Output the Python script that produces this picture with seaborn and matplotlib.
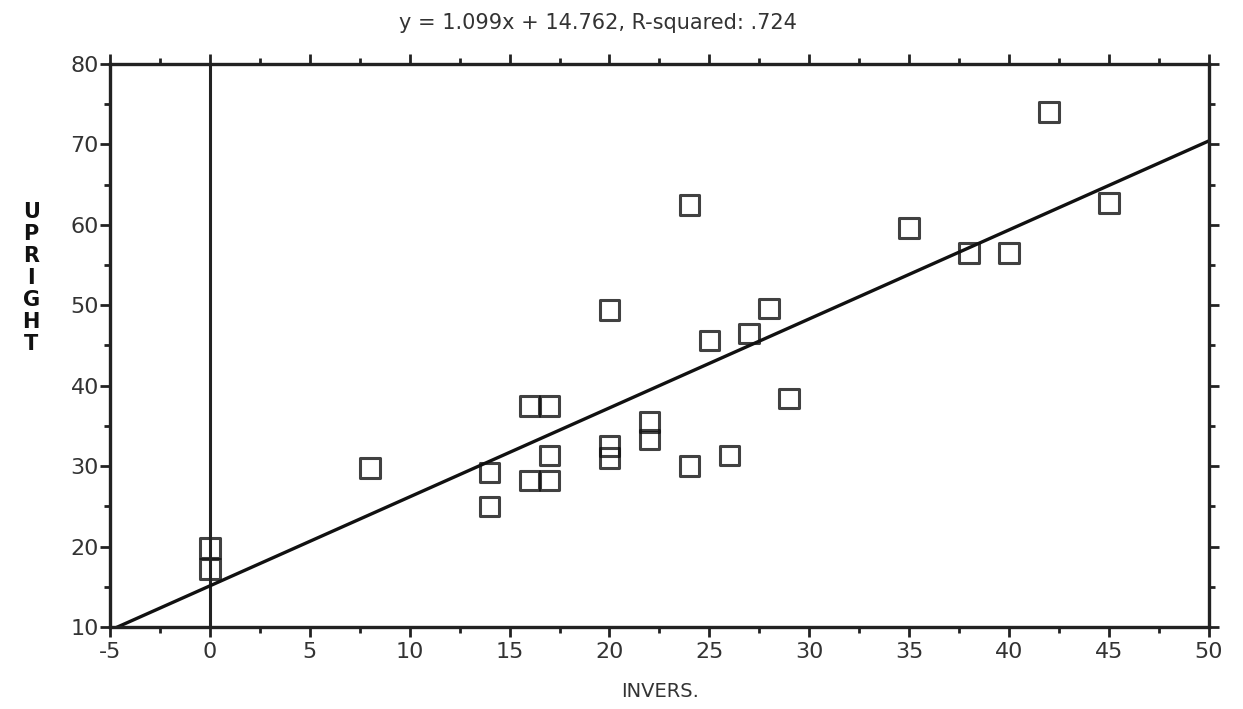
import numpy as np
import matplotlib
matplotlib.use("Agg")
import matplotlib.pyplot as plt
from matplotlib.ticker import MultipleLocator
import seaborn as sns
import pandas as pd

# values
invers = [0, 0, 8, 14, 14, 16, 17, 17, 16, 17, 20, 20, 20, 22, 22,
          24, 24, 25, 26, 27, 28, 29, 35, 38, 40, 42, 45]
upright = [19.8, 17.2, 29.8, 29.2, 25.0, 37.5, 37.5, 31.3, 28.2, 28.2, 32.5, 31.0, 49.4, 35.5, 33.3,
           30.0, 62.5, 45.6, 31.3, 46.5, 49.6, 38.4, 59.6, 56.5, 56.5, 74.0, 62.7]
title_text = "y = 1.099x + 14.762, R-squared: .724"
x_ticks = [-5, 0, 5, 10, 15, 20, 25, 30, 35, 40, 45, 50]
y_ticks = [10, 20, 30, 40, 50, 60, 70, 80]

df = pd.DataFrame({"INVERS.": invers, "UPRIGHT": upright})

sns.set_style("ticks")
plt.rcParams["font.family"] = ["DejaVu Sans"]
plt.rcParams["axes.unicode_minus"] = False

fig = plt.figure(figsize=(12.43, 7.09), dpi=100)
ax = fig.add_axes([0.0885, 0.1157, 0.884, 0.794])
ax.set_xlim(-5, 50)
ax.set_ylim(10, 80)

sns.regplot(data=df, x="INVERS.", y="UPRIGHT", ax=ax, ci=None, truncate=False,
            marker="s",
            scatter_kws=dict(s=200, facecolors="none", edgecolors="#111111", linewidths=2.2),
            line_kws=dict(color="#111111", lw=2.4))
ax.axvline(0, color="#222222", lw=2.2, zorder=1)

ax.set_xlim(-5, 50)
ax.set_ylim(10, 80)
ax.set_xticks(x_ticks)
ax.set_yticks(y_ticks)
ax.xaxis.set_minor_locator(MultipleLocator(2.5))
ax.yaxis.set_minor_locator(MultipleLocator(5))
ax.tick_params(which="both", direction="out", top=True, right=True,
               width=2, color="#222222", labelsize=16, labelcolor="#333333", pad=4)
ax.tick_params(which="major", length=7)
ax.tick_params(which="minor", length=4)
ax.tick_params(axis="y", pad=1)
for s in ax.spines.values():
    s.set_linewidth(2.4)
    s.set_color("#222222")

ax.set_xlabel("")
ax.set_ylabel("")
fig.text(0.531, 0.025, "INVERS.", ha="center", va="center", fontsize=14, color="#333333")
fig.text(0.025, 0.608, "\n".join("UPRIGHT"), ha="center", va="center",
         fontsize=15, fontweight="bold", linespacing=1.12, color="#111111")
fig.text(0.481, 0.967, title_text, ha="center", va="center", fontsize=15, color="#333333")

fig.savefig("out.png", dpi=100)
